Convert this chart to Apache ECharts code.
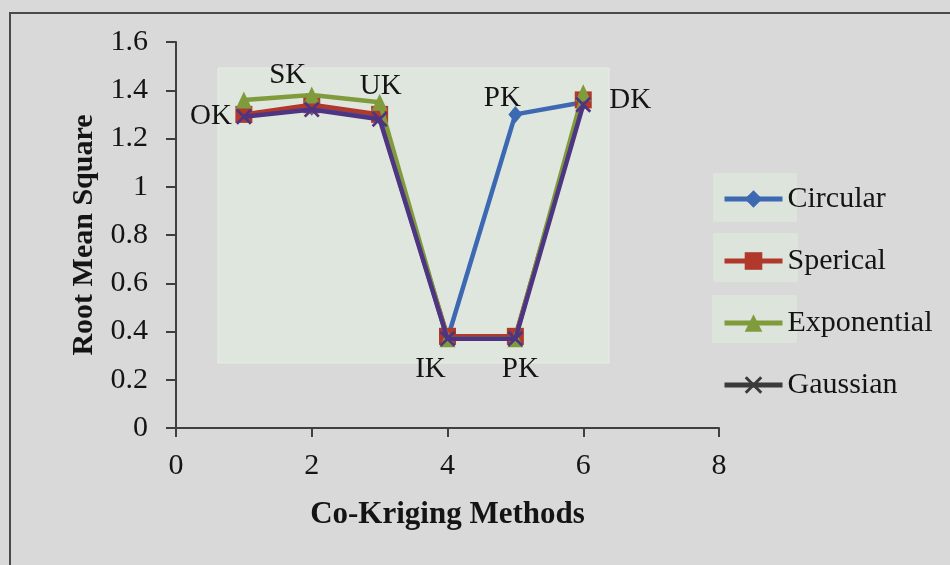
<!DOCTYPE html>
<html>
<head>
<meta charset="utf-8">
<script src="https://cdn.jsdelivr.net/npm/echarts@6/dist/echarts.min.js"></script>
<style>
  html, body { margin: 0; padding: 0; background: #d9d9d9; }
  #chart { width: 950px; height: 565px; }
</style>
</head>
<body>
<div id="chart"></div>
<script>
// Method index on the x axis (1..6)
const methodIndex = [1, 2, 3, 4, 5, 6];
// Method names written next to the points
const methodNames = ['OK', 'SK', 'UK', 'IK', 'PK', 'DK'];

// Root mean square per variogram model
const circular    = [1.30, 1.33, 1.29, 0.37, 1.30, 1.35];
const sperical    = [1.30, 1.34, 1.30, 0.38, 0.38, 1.36];
const exponential = [1.36, 1.38, 1.35, 0.37, 0.37, 1.39];
const gaussian    = [1.29, 1.32, 1.28, 0.37, 0.37, 1.34];

const seriesNames = ['Circular', 'Sperical', 'Exponential', 'Gaussian'];
const yTicks = [0, 0.2, 0.4, 0.6, 0.8, 1, 1.2, 1.4, 1.6];
const xTicks = [0, 2, 4, 6, 8];

const FONT = "'Liberation Serif', 'Times New Roman', serif";
const TEXT = '#141414';
const colors = ['#3d68b2', '#b0392b', '#7f9b3c', '#4d3582'];

const chart = echarts.init(document.getElementById('chart'), null, { renderer: 'canvas' });

// Which series/point carries each method label, and where it sits around the point
const labelPlacement = {
  Circular:    { 4: { text: 4, offset: [-13, -16] } },
  Sperical:    { 0: { text: 0, offset: [-33, 2] }, 5: { text: 5, offset: [47, 0] } },
  Exponential: { 1: { text: 1, offset: [-24, -20] }, 2: { text: 2, offset: [1, -16] },
                 3: { text: 3, offset: [-17, 31] }, 4: { text: 4, offset: [5, 31] } }
};

function buildData(name, values) {
  const place = labelPlacement[name] || {};
  return values.map((v, i) => {
    const item = { value: [methodIndex[i], v] };
    if (place[i]) {
      item.label = {
        show: true,
        position: 'inside',
        offset: place[i].offset,
        formatter: methodNames[place[i].text],
        fontFamily: FONT,
        fontSize: 29,
        color: TEXT
      };
    }
    return item;
  });
}

const xMarker = 'path://M0,1.2 L1.2,0 L5,3.8 L8.8,0 L10,1.2 L6.2,5 L10,8.8 L8.8,10 L5,6.2 L1.2,10 L0,8.8 L3.8,5 Z';
const symbols = ['diamond', 'rect', 'triangle', xMarker];
const symbolSizes = [[14, 17], 17, [16, 17], 16];
const valueSets = [circular, sperical, exponential, gaussian];

const series = seriesNames.map((name, k) => ({
  name: name,
  type: 'line',
  data: buildData(name, valueSets[k]),
  symbol: symbols[k],
  symbolSize: symbolSizes[k],
  showAllSymbol: true,
  lineStyle: { color: colors[k], width: 4.5 },
  itemStyle: { color: colors[k] },
  emphasis: { disabled: true },
  z: 3 + k
}));

const legendColors = [colors[0], colors[1], colors[2], '#3a3a3a'];

const option = {
  backgroundColor: '#d9d9d9',
  animation: false,
  textStyle: { fontFamily: FONT },
  graphic: [
    // outer frame
    { type: 'rect', z: -5, shape: { x: 10, y: 13, width: 960, height: 580 },
      style: { fill: 'none', stroke: '#4a4a4a', lineWidth: 2 } },
    // shaded plot panel
    { type: 'rect', z: -4, shape: { x: 218, y: 68, width: 391, height: 295 },
      style: { fill: '#dfe6de', stroke: '#e8ece8', lineWidth: 1 } },
    // legend key panels
    { type: 'rect', z: -4, shape: { x: 713, y: 173, width: 84, height: 49, r: 2 },
      style: { fill: '#dde4dc' } },
    { type: 'rect', z: -4, shape: { x: 713, y: 233, width: 85, height: 49, r: 2 },
      style: { fill: '#dde4dc' } },
    { type: 'rect', z: -4, shape: { x: 712, y: 295, width: 85, height: 48, r: 2 },
      style: { fill: '#dde4dc' } }
  ],
  grid: { left: 176, right: 231, top: 42, bottom: 137, containLabel: false },
  legend: {
    orient: 'vertical',
    left: 717,
    top: 179,
    padding: 5,
    itemWidth: 58,
    itemHeight: 22,
    itemGap: 32,
    textStyle: { fontFamily: FONT, fontSize: 30, color: TEXT, lineHeight: 30 },
    data: seriesNames.map((n, k) => ({
      name: n,
      itemStyle: { color: legendColors[k] },
      lineStyle: { color: legendColors[k], width: 5 }
    }))
  },
  xAxis: {
    type: 'value',
    min: xTicks[0],
    max: xTicks[xTicks.length - 1],
    interval: 2,
    name: 'Co-Kriging Methods',
    nameLocation: 'middle',
    nameGap: 71,
    nameTextStyle: { fontFamily: FONT, fontSize: 31, fontWeight: 'bold', color: TEXT },
    axisLine: { show: true, lineStyle: { color: '#3f3f3f', width: 2 } },
    axisTick: { show: true, length: 9, lineStyle: { color: '#3f3f3f', width: 2 } },
    axisLabel: { fontFamily: FONT, fontSize: 30, color: TEXT, margin: 23 },
    splitLine: { show: false }
  },
  yAxis: {
    type: 'value',
    min: yTicks[0],
    max: yTicks[yTicks.length - 1],
    interval: 0.2,
    name: 'Root Mean Square',
    nameLocation: 'middle',
    nameRotate: 90,
    nameGap: 74,
    nameTextStyle: { fontFamily: FONT, fontSize: 30, fontWeight: 'bold', color: TEXT },
    axisLine: { show: true, lineStyle: { color: '#3f3f3f', width: 2 } },
    axisTick: { show: true, length: 10, lineStyle: { color: '#3f3f3f', width: 2 } },
    axisLabel: { fontFamily: FONT, fontSize: 30, color: TEXT, margin: 28 },
    splitLine: { show: false }
  },
  series: series
};

chart.setOption(option);
</script>
</body>
</html>
